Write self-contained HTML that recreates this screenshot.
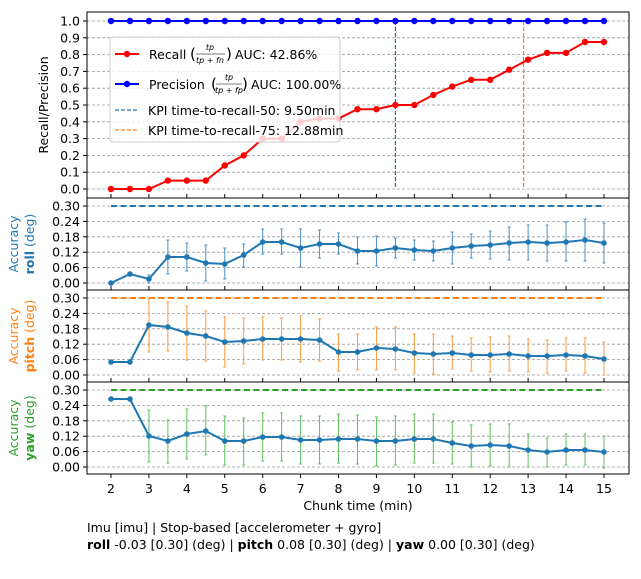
<!DOCTYPE html>
<html><head><meta charset="utf-8"><style>
html,body{margin:0;padding:0;background:#fff;width:641px;height:579px;overflow:hidden}
svg{display:block;font-family:"DejaVu Sans","Liberation Sans",sans-serif}
</style></head><body>
<svg id="s" width="641" height="579" xmlns="http://www.w3.org/2000/svg"></svg>
<script>
const S=document.getElementById('s');let h='';
const X=i=>111+18.96*i, XV=v=>111+(v-2)*37.92;
const L=87,R=629,FS=12.5;
const ty=v=>189-168*v;
h+='<rect x="87" y="12" width="542" height="186" fill="#fff"/>';
for(let k=0;k<=10;k++){const y=ty(k/10);h+=`<line x1="${L}" x2="${R}" y1="${y}" y2="${y}" stroke="#999" stroke-dasharray="3,2" stroke-width="0.8"/>`;
h+=`<line x1="${L-4}" x2="${L}" y1="${y}" y2="${y}" stroke="#000"/><text x="${L-7}" y="${y+4.5}" font-size="${FS}" text-anchor="end">${(k/10).toFixed(1)}</text>`;}
h+=`<line x1="395.4" x2="395.4" y1="21" y2="189" stroke="#1f77b4" stroke-dasharray="4,2" stroke-width="1.2"/>`;
h+=`<line x1="523.6" x2="523.6" y1="21" y2="189" stroke="#ff7f0e" stroke-dasharray="4,2" stroke-width="1.2"/>`;
const rec=[0,0,0,.05,.05,.05,.14,.2,.3,.3,.4,.42,.42,.475,.475,.5,.5,.56,.61,.65,.65,.71,.77,.81,.81,.875,.875];
let p='';rec.forEach((v,i)=>p+=`${X(i)},${ty(v)} `);
h+=`<polyline points="${p}" fill="none" stroke="red" stroke-width="2"/>`;
rec.forEach((v,i)=>h+=`<circle cx="${X(i)}" cy="${ty(v)}" r="3.2" fill="red"/>`);
h+=`<line x1="${X(0)}" x2="${X(26)}" y1="21" y2="21" stroke="blue" stroke-width="2"/>`;
for(let i=0;i<27;i++)h+=`<circle cx="${X(i)}" cy="21" r="3.2" fill="blue"/>`;
// legend
h+=`<rect x="110" y="37" width="230" height="105" rx="3" fill="#fff" fill-opacity="0.8" stroke="#ccc"/>`;
h+=`<line x1="115" x2="139" y1="54" y2="54" stroke="red" stroke-width="2"/><circle cx="127" cy="54" r="3.2" fill="red"/>`;
h+=`<text x="149" y="59" font-size="${FS}">Recall</text><text x="190" y="59" font-size="15">(</text><text x="210" y="50" font-size="8" font-style="italic" text-anchor="middle">tp</text><line x1="196" x2="225" y1="54" y2="54" stroke="#000" stroke-width="0.6"/><text x="210" y="63" font-size="8" font-style="italic" text-anchor="middle">tp + fn</text><text x="226" y="59" font-size="15">)</text><text x="235" y="59" font-size="${FS}">AUC: 42.86%</text>`;
h+=`<line x1="115" x2="139" y1="84" y2="84" stroke="blue" stroke-width="2"/><circle cx="127" cy="84" r="3.2" fill="blue"/>`;
h+=`<text x="149" y="89" font-size="${FS}">Precision</text><text x="211" y="89" font-size="15">(</text><text x="229" y="80" font-size="8" font-style="italic" text-anchor="middle">tp</text><line x1="216" x2="242" y1="84" y2="84" stroke="#000" stroke-width="0.6"/><text x="229" y="93" font-size="8" font-style="italic" text-anchor="middle">tp + fp</text><text x="242" y="89" font-size="15">)</text><text x="251" y="89" font-size="${FS}">AUC: 100.00%</text>`;
h+=`<line x1="115" x2="139" y1="110" y2="110" stroke="#1f77b4" stroke-dasharray="4,2" stroke-width="1.2"/><text x="148" y="115" font-size="${FS}">KPI time-to-recall-50: 9.50min</text>`;
h+=`<line x1="115" x2="139" y1="130" y2="130" stroke="#ff7f0e" stroke-dasharray="4,2" stroke-width="1.2"/><text x="148" y="135" font-size="${FS}">KPI time-to-recall-75: 12.88min</text>`;
h+=`<text transform="translate(48,105) rotate(-90)" font-size="${FS}" text-anchor="middle">Recall/Precision</text>`;
const panels=[
 {y0:198,z:283,c:'#1f77b4',n:'roll',line:[283,274,279,257,257,263,264,255,242,242,248,244,244,251,251,248,250,251,248,246,245,243,242,243,242,240,243],
  e:[null,null,[275,283],[240,274],[243,271],[245,281],[248,279],[244,267],[229,254],[229,254],[229,267],[230,258],[233,254],[237,264],[236,266],[238,258],[240,260],[241,261],[232,264],[234,258],[231,259],[227,260],[225,260],[225,261],[222,261],[219,261],[223,263]]},
 {y0:290,z:375,c:'#ff7f0e',n:'pitch',line:[362,362,325,327,333,336,342,341,339,339,339,340,352,352,348,349,353,354,353,355,355,354,356,356,355,356,359],
  e:[null,null,[298,352],[302,351],[306,360],[311,361],[317,367],[318,364],[317,360],[318,360],[316,362],[319,361],[334,371],[334,370],[327,370],[327,370],[334,373],[334,374],[336,369],[338,371],[337,372],[336,371],[339,372],[340,373],[338,371],[338,373],[342,375]]},
 {y0:382,z:467,c:'#2ca02c',n:'yaw',line:[399,399,436,441,434,431,441,441,437,437,440,440,439,439,441,441,439,439,443,446,445,446,450,452,450,450,452],
  e:[null,null,[410,462],[420,463],[409,459],[406,455],[416,465],[418,465],[413,461],[413,461],[416,464],[416,464],[414,463],[415,464],[417,466],[416,465],[414,463],[414,463],[422,464],[425,467],[424,466],[424,467],[434,467],[438,467],[434,465],[434,465],[436,468]]}
];
const ec={'#1f77b4':'#4a90c4','#ff7f0e':'#ff9a3c','#2ca02c':'#5cbf5c'};
panels.forEach(P=>{
 for(let k=0;k<=5;k++){const v=k*0.06,y=P.z-v*77/0.30;
  h+=`<line x1="${L}" x2="${R}" y1="${y}" y2="${y}" stroke="#999" stroke-dasharray="3,2" stroke-width="0.8"/>`;
  h+=`<line x1="${L-4}" x2="${L}" y1="${y}" y2="${y}" stroke="#000"/><text x="${L-7}" y="${y+4.5}" font-size="${FS}" text-anchor="end">${v.toFixed(2)}</text>`;}
 const ty0=P.z-77;
 h+=`<line x1="${X(0)}" x2="${X(26)}" y1="${ty0}" y2="${ty0}" stroke="${P.c}" stroke-dasharray="6,3.5" stroke-width="2"/>`;
 P.e.forEach((e,i)=>{if(!e)return;const x=X(i);h+=`<line x1="${x}" x2="${x}" y1="${e[0]}" y2="${e[1]}" stroke="${ec[P.c]}" stroke-width="1"/><line x1="${x-1.5}" x2="${x+1.5}" y1="${e[0]}" y2="${e[0]}" stroke="${ec[P.c]}"/><line x1="${x-1.5}" x2="${x+1.5}" y1="${e[1]}" y2="${e[1]}" stroke="${ec[P.c]}"/>`;});
 let q='';P.line.forEach((y,i)=>q+=`${X(i)},${y} `);
 h+=`<polyline points="${q}" fill="none" stroke="#1f77b4" stroke-width="2"/>`;
 P.line.forEach((y,i)=>h+=`<circle cx="${X(i)}" cy="${y}" r="2.8" fill="#1f77b4"/>`);
 const cy=P.y0+46;
 h+=`<text transform="translate(18,${cy}) rotate(-90)" font-size="${FS}" fill="${P.c}" text-anchor="middle">Accuracy</text>`;
 h+=`<text transform="translate(34,${cy}) rotate(-90)" font-size="${FS}" fill="${P.c}" text-anchor="middle"><tspan font-weight="bold">${P.n}</tspan> (deg)</text>`;
});
[[12,198],[198,290],[290,382],[382,474]].forEach(([a,b])=>h+=`<rect x="${L}" y="${a}" width="${R-L}" height="${b-a}" fill="none" stroke="#000" stroke-width="1"/>`);
for(let v=2;v<=15;v++){const x=XV(v);h+=`<line x1="${x}" x2="${x}" y1="474" y2="478" stroke="#000"/><text x="${x}" y="493" font-size="${FS}" text-anchor="middle">${v}</text>`;
 [198,290,382].forEach(y=>h+=`<line x1="${x}" x2="${x}" y1="${y-4}" y2="${y}" stroke="#000"/>`);}
h+=`<text x="358" y="510" font-size="${FS}" text-anchor="middle">Chunk time (min)</text>`;
h+=`<text x="87" y="532" font-size="${FS}">Imu [imu] | Stop-based [accelerometer + gyro]</text>`;
h+=`<text x="87" y="549" font-size="${FS}"><tspan font-weight="bold">roll</tspan> -0.03 [0.30] (deg) | <tspan font-weight="bold">pitch</tspan> 0.08 [0.30] (deg) | <tspan font-weight="bold">yaw</tspan> 0.00 [0.30] (deg)</text>`;
S.innerHTML=h;
</script>
</body></html>
